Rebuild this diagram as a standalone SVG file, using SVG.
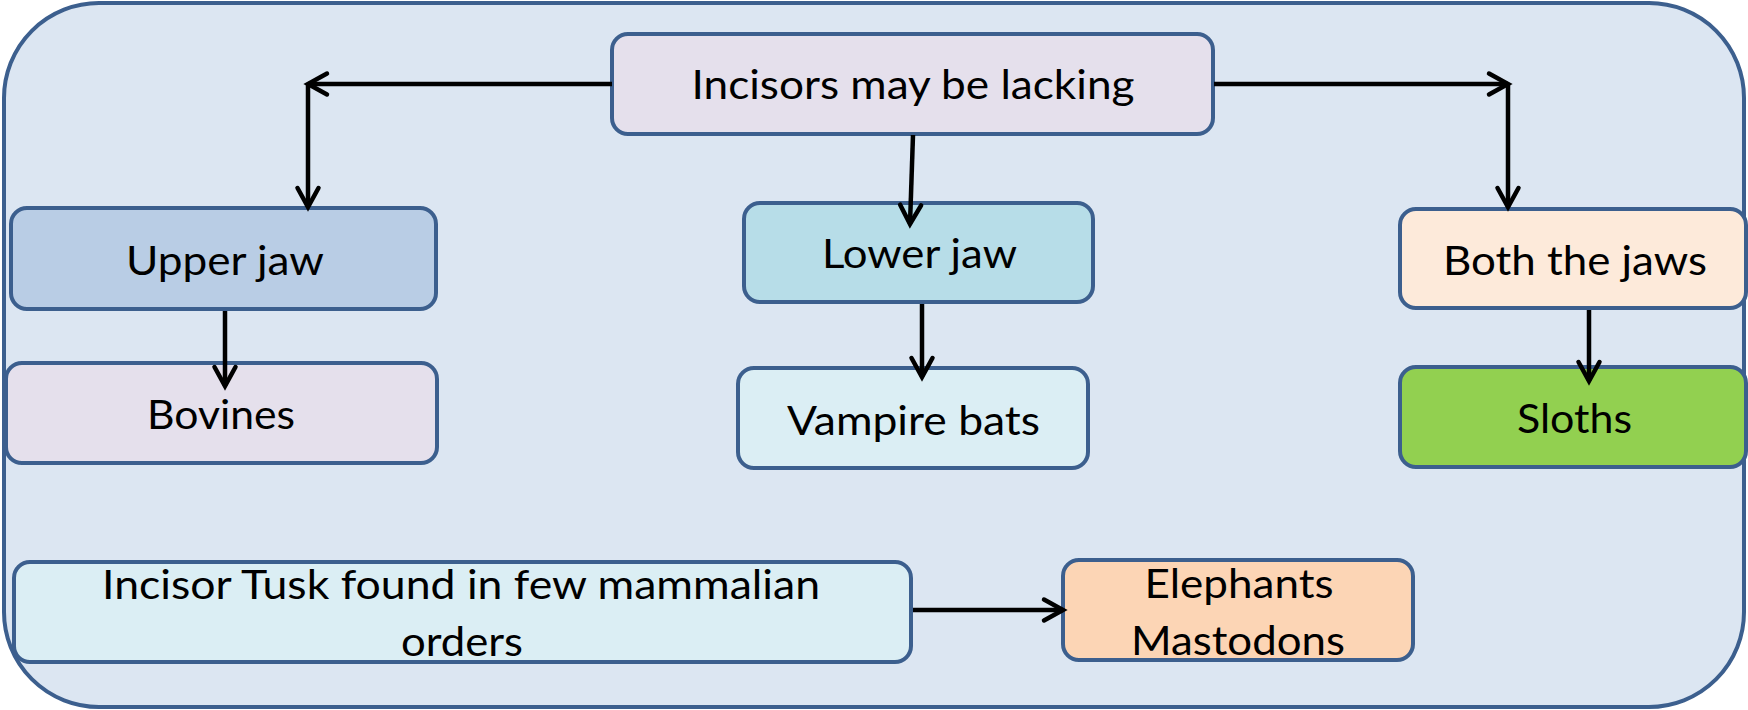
<svg xmlns="http://www.w3.org/2000/svg" width="1748" height="710" viewBox="0 0 1748 710">
<style>
.box{stroke:#3C5F8E;stroke-width:4}
.t{font-family:Lato,"Open Sans","Liberation Sans",sans-serif;font-size:41px;fill:#000;text-anchor:middle}
.c{fill:none;stroke:#000;stroke-width:4.5}
</style>
<defs>
<marker id="arr" markerUnits="userSpaceOnUse" markerWidth="50" markerHeight="50" viewBox="-25 -25 50 50" refX="0" refY="0" orient="auto" overflow="visible">
<path d="M-19,-10.5 L0,0 L-19,10.5" fill="none" stroke="#000" stroke-width="4.5" stroke-linecap="round" stroke-linejoin="miter"/>
</marker>
</defs>
<rect id="frame" x="4" y="3" width="1740" height="704" rx="95" ry="95" fill="#DCE6F2" stroke="#3C5F8E" stroke-width="4"/>
<g id="n-top">
<rect class="box" x="612" y="34" width="601" height="100" rx="16" fill="#E5E0EC"/>
<text class="t" x="913" y="99" textLength="443" lengthAdjust="spacingAndGlyphs">Incisors may be lacking</text>
</g>
<g id="n-upper">
<rect class="box" x="11" y="208" width="425" height="101" rx="16" fill="#B9CDE5"/>
<text class="t" x="225" y="275" textLength="198" lengthAdjust="spacingAndGlyphs">Upper jaw</text>
</g>
<g id="n-lower">
<rect class="box" x="744" y="203" width="349" height="99" rx="16" fill="#B7DDE8"/>
<text class="t" x="919.5" y="268" textLength="195" lengthAdjust="spacingAndGlyphs">Lower jaw</text>
</g>
<g id="n-both">
<rect class="box" x="1400" y="209" width="346" height="99" rx="16" fill="#FDEADA"/>
<text class="t" x="1575" y="275" textLength="264" lengthAdjust="spacingAndGlyphs">Both the jaws</text>
</g>
<g id="n-bovines">
<rect class="box" x="6" y="363" width="431" height="100" rx="16" fill="#E5E0EC"/>
<text class="t" x="221" y="429" textLength="148" lengthAdjust="spacingAndGlyphs">Bovines</text>
</g>
<g id="n-vampire">
<rect class="box" x="738" y="368" width="350" height="100" rx="16" fill="#DBEEF4"/>
<text class="t" x="913.5" y="435" textLength="253" lengthAdjust="spacingAndGlyphs">Vampire bats</text>
</g>
<g id="n-sloths">
<rect class="box" x="1400" y="367" width="346" height="100" rx="16" fill="#92D050"/>
<text class="t" x="1574.5" y="433" textLength="115" lengthAdjust="spacingAndGlyphs">Sloths</text>
</g>
<g id="n-tusk">
<rect class="box" x="14" y="562" width="897" height="100" rx="16" fill="#DBEEF4"/>
<text class="t" x="461" y="599" textLength="718" lengthAdjust="spacingAndGlyphs">Incisor Tusk found in few mammalian</text>
<text class="t" x="462" y="656" textLength="122" lengthAdjust="spacingAndGlyphs">orders</text>
</g>
<g id="n-elephants">
<rect class="box" x="1063" y="560" width="350" height="100" rx="16" fill="#FCD5B5"/>
<text class="t" x="1239" y="598" textLength="189" lengthAdjust="spacingAndGlyphs">Elephants</text>
<text class="t" x="1238" y="655" textLength="214" lengthAdjust="spacingAndGlyphs">Mastodons</text>
</g>
<g id="connectors">
<path class="c" d="M612,84 L308,84" marker-end="url(#arr)"/>
<path class="c" d="M308,84 L308,207" marker-end="url(#arr)"/>
<path class="c" d="M1214,84 L1508,84" marker-end="url(#arr)"/>
<path class="c" d="M1508,84 L1508,207" marker-end="url(#arr)"/>
<path class="c" d="M913,135 L910,224" marker-end="url(#arr)"/>
<path class="c" d="M225,311 L225,386" marker-end="url(#arr)"/>
<path class="c" d="M922,304 L922,377" marker-end="url(#arr)"/>
<path class="c" d="M1589,310 L1589,381" marker-end="url(#arr)"/>
<path class="c" d="M913,610 L1063,610" marker-end="url(#arr)"/>
</g>
</svg>
